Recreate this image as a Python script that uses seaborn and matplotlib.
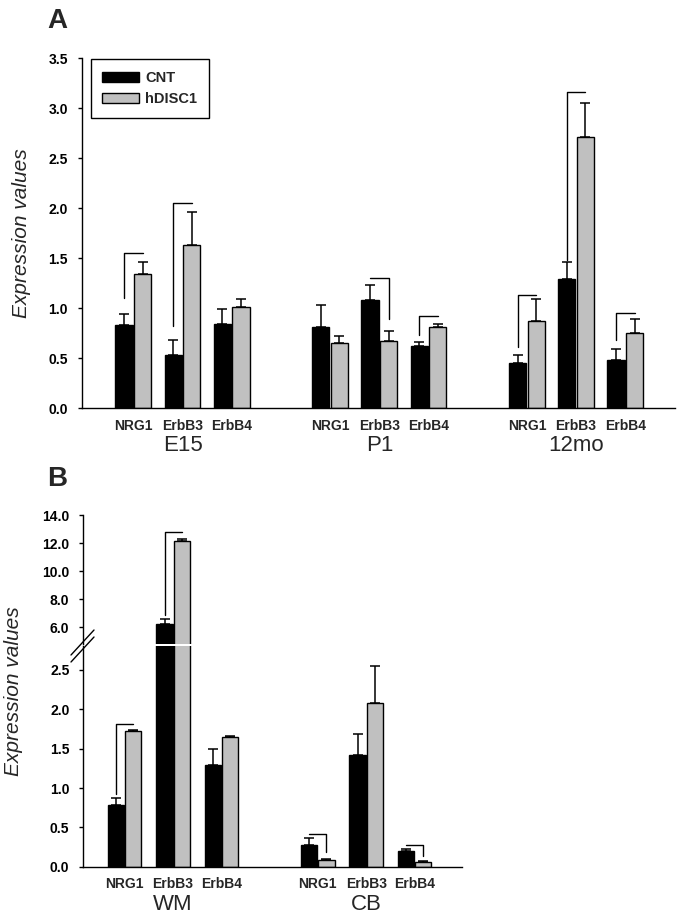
import numpy as np
import pandas as pd
import matplotlib
matplotlib.use("Agg")
import matplotlib.pyplot as plt
from matplotlib.font_manager import FontProperties
from matplotlib.ticker import FormatStrFormatter
from matplotlib.lines import Line2D
import seaborn as sns

# ---------------- data ----------------
genes = ["NRG1", "ErbB3", "ErbB4"]
conditions = ["CNT", "hDISC1"]

a_groups = ["E15", "P1", "12mo"]
a_cnt = [0.83, 0.53, 0.84, 0.81, 1.08, 0.62, 0.45, 1.29, 0.48]
a_cnt_err = [0.11, 0.15, 0.15, 0.22, 0.15, 0.04, 0.08, 0.17, 0.11]
a_hd = [1.34, 1.63, 1.01, 0.65, 0.67, 0.81, 0.87, 2.71, 0.75]
a_hd_err = [0.12, 0.33, 0.08, 0.07, 0.10, 0.03, 0.22, 0.34, 0.14]
a_brackets = [("E15", "NRG1", 1.55, 1.10, "CNT"),
              ("E15", "ErbB3", 2.05, 0.82, "CNT"),
              ("P1", "ErbB3", 1.30, 0.89, "hDISC1"),
              ("P1", "ErbB4", 0.92, 0.73, "CNT"),
              ("12mo", "NRG1", 1.13, 0.61, "CNT"),
              ("12mo", "ErbB3", 3.16, 1.48, "CNT"),
              ("12mo", "ErbB4", 0.95, 0.68, "CNT")]

b_groups = ["WM", "CB"]
b_cnt = [0.78, 6.24, 1.29, 0.28, 1.42, 0.20]
b_cnt_err = [0.09, 0.31, 0.21, 0.085, 0.26, 0.03]
b_hd = [1.725, 12.12, 1.648, 0.089, 2.076, 0.055]
b_hd_err = [0.012, 0.19, 0.009, 0.011, 0.48, 0.013]
b_brackets = [("WM", "NRG1", 1.81, 0.93, "CNT"),
              ("WM", "ErbB3", 12.76, 6.86, "CNT"),
              ("CB", "NRG1", 0.41, 0.19, "hDISC1"),
              ("CB", "ErbB4", 0.28, 0.14, "hDISC1")]

palette = {"CNT": "#000000", "hDISC1": "#c0c0c0"}

# ---------------- style ----------------
sns.set_style("ticks")
plt.rcParams['font.family'] = ['Liberation Sans', 'DejaVu Sans']
BOLD = ['Liberation Sans', 'DejaVu Sans']
narrow = FontProperties(family=BOLD, weight='bold', size=10)
genefont = FontProperties(family=BOLD, weight='bold', size=10)
legfont = FontProperties(family=BOLD, weight='bold', size=10.5)

W, H = 682, 921
fig = plt.figure(figsize=(W / 100, H / 100), dpi=100)


def fx(px):
    return px / W


def fy(py):
    return 1 - py / H


def build(groups, cnt, hd):
    rows = []
    order = []
    k = 0
    for gi, g in enumerate(groups):
        for gene in genes:
            slot = f"{g}|{gene}"
            order.append(slot)
            rows.append((slot, "CNT", cnt[k]))
            rows.append((slot, "hDISC1", hd[k]))
            k += 1
        if gi < len(groups) - 1:
            order.append(f"spacer{gi}")
    return pd.DataFrame(rows, columns=["slot", "condition", "value"]), order


def draw(ax, df, order, cnt_err, hd_err, brackets, width, gap, legend=False):
    sns.barplot(data=df, x="slot", y="value", hue="condition", order=order,
                hue_order=conditions, palette=palette, saturation=1,
                edgecolor="black", linewidth=1.0, width=width, gap=gap,
                errorbar=None, ax=ax, legend=legend)
    centers = {}
    for cond, cont, errs in zip(conditions, ax.containers, [cnt_err, hd_err]):
        pts = sorted((p.get_x() + p.get_width() / 2, p.get_height()) for p in cont)
        xs = np.array([p[0] for p in pts])
        ys = np.array([p[1] for p in pts])
        centers[cond] = xs
        ax.errorbar(xs, ys, yerr=[np.zeros_like(ys), np.array(errs)], fmt='none',
                    ecolor='black', elinewidth=1.1, capsize=3.8, capthick=1.1, zorder=3)
    slots = [s for s in order if not s.startswith("spacer")]
    for g, gene, top, bot, side in brackets:
        k = slots.index(f"{g}|{gene}")
        xc, xh = centers["CNT"][k], centers["hDISC1"][k]
        if side == "CNT":
            ax.plot([xc, xc, xh], [bot, top, top], color='black', lw=1.0, zorder=3)
        else:
            ax.plot([xc, xh, xh], [top, top, bot], color='black', lw=1.0, zorder=3)
    return slots


def style_y(ax):
    ax.yaxis.set_major_formatter(FormatStrFormatter('%.1f'))
    ax.tick_params(axis='y', direction='out', length=3, width=1.0, pad=7, colors='black')
    for lbl in ax.get_yticklabels():
        lbl.set_fontproperties(narrow)
    ax.set_ylabel("")
    ax.set_xlabel("")
    for s in ["left", "bottom"]:
        ax.spines[s].set_linewidth(1.0)
        ax.spines[s].set_color('black')


def gene_ticks(ax, order):
    pos = [i for i, s in enumerate(order) if not s.startswith("spacer")]
    ax.set_xticks(pos)
    ax.set_xticklabels([order[i].split("|")[1] for i in pos])
    ax.tick_params(axis='x', length=0, pad=7.5)
    for lbl in ax.get_xticklabels():
        lbl.set_fontproperties(genefont)


def group_labels(ax, groups, order):
    for g in groups:
        pos = [i for i, s in enumerate(order) if s.startswith(g + "|")]
        ax.annotate(g, xy=(np.mean(pos), 0), xycoords=('data', 'axes fraction'),
                    xytext=(0, -27), textcoords='offset points', ha='center', va='center',
                    fontsize=16, family=['Liberation Sans', 'DejaVu Sans'])


# ---------------- panel A ----------------
axA = fig.add_axes([fx(81.7), fy(408.3), fx(675) - fx(81.7), fy(58.3) - fy(408.3)])
dfA, orderA = build(a_groups, a_cnt, a_hd)
draw(axA, dfA, orderA, a_cnt_err, a_hd_err, a_brackets, width=0.76, gap=0.08, legend=True)
axA.set_ylim(0, 3.5)
axA.set_yticks(np.arange(0, 3.51, 0.5))
axA.set_xlim(-1.05, 11.01)
sns.despine(ax=axA)
style_y(axA)
gene_ticks(axA, orderA)
group_labels(axA, a_groups, orderA)

old = axA.get_legend()
handles = old.legend_handles
labels = [t.get_text() for t in old.get_texts()]
for h in handles:
    h.set_edgecolor('black')
    h.set_linewidth(1.0)
leg = axA.legend(handles, labels, loc='upper left', bbox_to_anchor=(0.0152, 0.997),
                 frameon=True, fancybox=False, framealpha=1, edgecolor='black',
                 borderaxespad=0, handlelength=2.5, handleheight=0.7, handletextpad=0.45,
                 labelspacing=0.5, borderpad=0.8, prop=legfont)
leg.get_frame().set_linewidth(1.0)

fig.text(fx(47), fy(28), "A", fontsize=20, fontweight='bold', ha='left', va='baseline')
fig.text(fx(22), fy(233), "Expression values", rotation=90, style='italic',
         fontsize=15, ha='center', va='center')

# ---------------- panel B (broken axis) ----------------
dfB, orderB = build(b_groups, b_cnt, b_hd)
bx0, bx1 = 83.3, 461.7
y0px = 866.7
lower_top = 2.8
lower_top_px = y0px - lower_top * 78.7
upper_bot = 4.8
upper_top_px = 515.0
upper_bot_px = upper_top_px + (14 - upper_bot) * 14.0

axBl = fig.add_axes([fx(bx0), fy(y0px), fx(bx1) - fx(bx0), fy(lower_top_px) - fy(y0px)])
axBu = fig.add_axes([fx(bx0), fy(upper_bot_px), fx(bx1) - fx(bx0), fy(upper_top_px) - fy(upper_bot_px)])

for ax in (axBl, axBu):
    draw(ax, dfB, orderB, b_cnt_err, b_hd_err, b_brackets, width=0.71, gap=0.056)
    ax.set_xlim(-0.86, 6.98)
    sns.despine(ax=ax)

axBl.set_ylim(0, lower_top)
axBl.set_yticks(np.arange(0, 2.51, 0.5))
style_y(axBl)
gene_ticks(axBl, orderB)
group_labels(axBl, b_groups, orderB)

axBu.set_ylim(upper_bot, 14)
axBu.set_yticks(np.arange(6, 14.1, 2))
axBu.spines['bottom'].set_visible(False)
axBu.set_xticks([])
style_y(axBu)

for dy in (0, 7):
    fig.add_artist(Line2D([fx(71), fx(94)], [fy(655 + dy), fy(630 + dy)], color='black', lw=1.0))

fig.text(fx(47), fy(486), "B", fontsize=20, fontweight='bold', ha='left', va='baseline')
fig.text(fx(14), fy(691), "Expression values", rotation=90, style='italic',
         fontsize=15, ha='center', va='center')

fig.savefig("out.png", dpi=100)
